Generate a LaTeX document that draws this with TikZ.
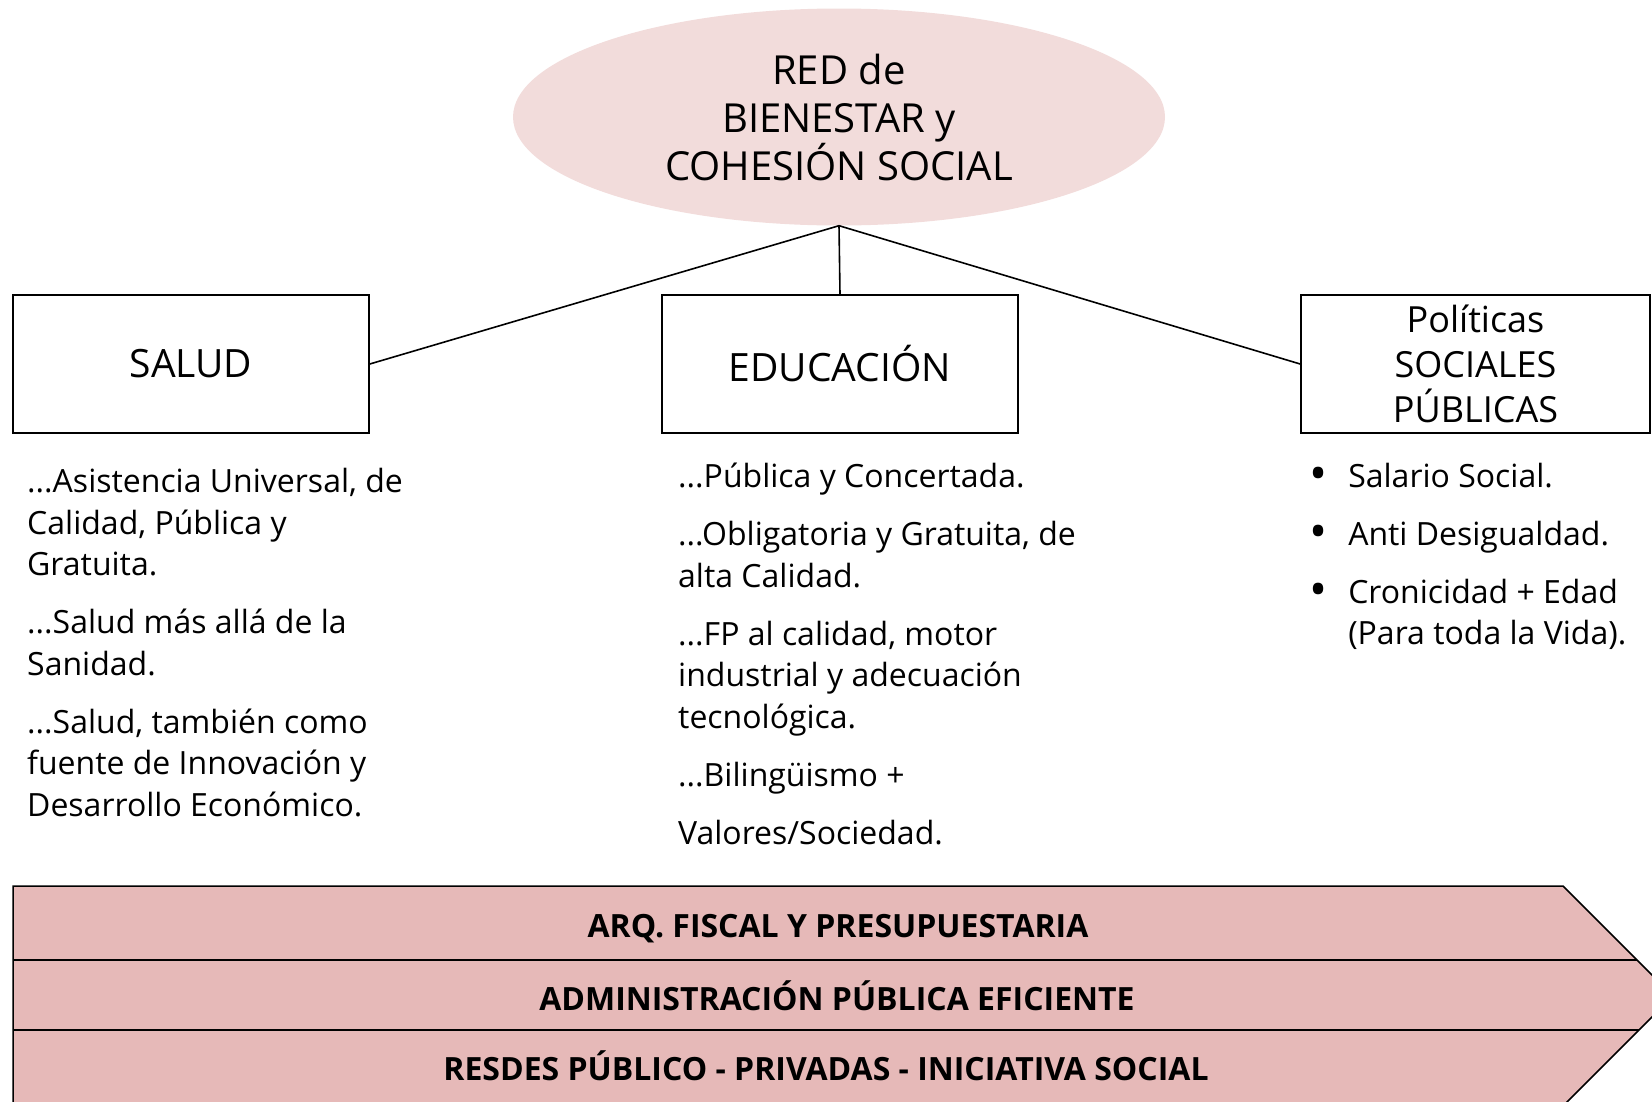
\documentclass[tikz,border=0pt]{standalone}
\usepackage{fontspec}
\setmainfont{Open Sans}
\usepackage{graphicx}
\usepackage{tikz}
\usetikzlibrary{shapes.geometric}
\definecolor{ovalpink}{HTML}{F2DCDB}
\definecolor{bandpink}{HTML}{E6B9B8}
\newcommand{\bigdot}{\raisebox{-3pt}{\scalebox{1.5}{•}}}

\begin{document}
\begin{tikzpicture}[x=1pt,y=-1pt,
  box/.style={draw,line width=1.6pt,minimum width=356pt,minimum height=138pt,inner sep=0pt,align=center,font=\fontsize{39}{45}\selectfont},
  txt/.style={anchor=base west,inner sep=0pt,align=left,font=\fontsize{32}{41.5}\selectfont},
  bandtxt/.style={font=\fontsize{32}{36}\selectfont\bfseries}]
\useasboundingbox (0,0) rectangle (1652,1101);
% Central oval
\node[ellipse,fill=ovalpink,minimum width=652pt,minimum height=217pt,inner sep=0pt,align=center,font=\fontsize{40}{48}\selectfont] (red) at (839,117) {RED de\\BIENESTAR y\\COHESIÓN SOCIAL};
% Three boxes
\node[box] (salud) at (191,364) {SALUD};
\node[box] (educ) at (840,364) {EDUCACIÓN};
\node[box,minimum width=349pt,font=\fontsize{36}{45}\selectfont] (pol) at (1475.5,364) {Políticas\\SOCIALES\\PÚBLICAS};
% Links from the oval
\draw[line width=1.6pt] (red.south) -- (salud.east);
\draw[line width=1.6pt] (red.south) -- (educ.north);
\draw[line width=1.6pt] (red.south) -- (pol.west);
% Texts under the boxes (base = last line)
\node[txt] (saludtxt) at (27,816) {...Asistencia Universal, de\\Calidad, Pública y\\Gratuita.\\[16.5pt]...Salud más allá de la\\Sanidad.\\[16.5pt]...Salud, también como\\fuente de Innovación y\\Desarrollo Económico.};
\node[txt] (eductxt) at (678,844) {...Pública y Concertada.\\[16.5pt]...Obligatoria y Gratuita, de\\alta Calidad.\\[16.5pt]...FP al calidad, motor\\industrial y adecuación\\tecnológica.\\[16.5pt]...Bilingüismo +\\[16.5pt]Valores/Sociedad.};
\node[txt] (poltxt) at (1309,487) {\begin{tabular}[t]{@{}l@{\hspace{21pt}}l@{}}\bigdot&Salario Social.\\[16.5pt]\bigdot&Anti Desigualdad.\\[16.5pt]\bigdot&Cronicidad + Edad\\&(Para toda la Vida).\end{tabular}};
% Bottom band
\fill[bandpink] (13,886) -- (1563,886) -- (1673,996) -- (1563,1106) -- (13,1106) -- cycle;
\draw[line width=1.5pt] (13,886) -- (1563,886) -- (1673,996) -- (1563,1106) -- (13,1106) -- cycle;
\draw[line width=2.4pt] (13,960) -- (1637,960);
\draw[line width=2.4pt] (13,1030) -- (1639,1030);
\node[bandtxt] (fiscal) at (838,929) {ARQ. FISCAL Y PRESUPUESTARIA};
\node[bandtxt] (admin) at (837,996) {ADMINISTRACIÓN PÚBLICA EFICIENTE};
\node[bandtxt] (redes) at (826,1066) {RESDES PÚBLICO - PRIVADAS - INICIATIVA SOCIAL};
\end{tikzpicture}
\end{document}
